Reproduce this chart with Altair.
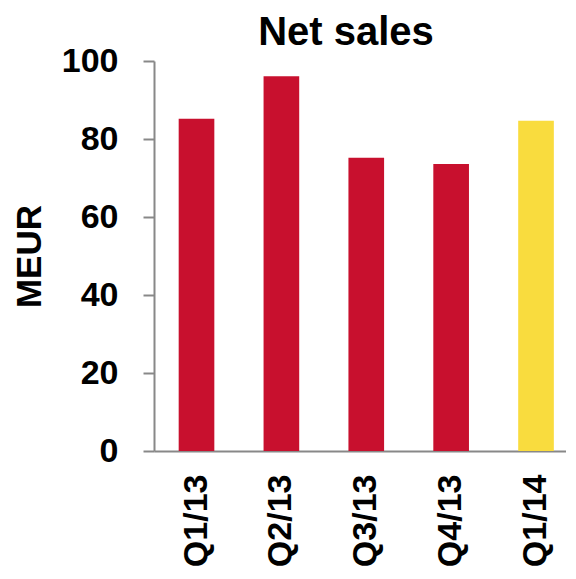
import altair as alt
import pandas as pd

quarters = ["Q1/13", "Q2/13", "Q3/13", "Q4/13", "Q1/14"]
net_sales = [85.2, 96.1, 75.2, 73.6, 84.7]
colors = ["#C8102E", "#C8102E", "#C8102E", "#C8102E", "#F9DC3E"]

df = pd.DataFrame({"quarter": quarters, "sales": net_sales, "color": colors})

FONT = "Liberation Sans"

chart = alt.Chart(df).mark_bar().encode(
    x=alt.X("quarter:N", sort=quarters, title=None,
            scale=alt.Scale(paddingInner=0.58, paddingOuter=0.217, align=0.67),
            axis=alt.Axis(labelAngle=270, labelAlign="right", labelBaseline="middle",
                          labelFontSize=34, labelFont=FONT, labelFontWeight="bold",
                          labelColor="black", labelPadding=23, ticks=False,
                          domainColor="#888888", domainWidth=2)),
    y=alt.Y("sales:Q", title="MEUR",
            scale=alt.Scale(domain=[0, 100], nice=False),
            axis=alt.Axis(values=[0, 20, 40, 60, 80, 100], grid=False,
                          labelFontSize=34, labelFont=FONT, labelFontWeight="bold",
                          labelColor="black", labelPadding=25, tickSize=11,
                          tickColor="#888888", tickWidth=2,
                          domainColor="#888888", domainWidth=2,
                          titleFontSize=35, titleFont=FONT, titleFontWeight="bold",
                          titleColor="black", titlePadding=14)),
    color=alt.Color("color:N", scale=None),
).properties(
    width=412, height=390,
    padding={"left": 4, "top": 5, "right": 0, "bottom": 0},
    title=alt.TitleParams("Net sales", fontSize=40, font=FONT, fontWeight="bold",
                          color="black", anchor="middle", dx=-14, offset=-9),
).configure_view(stroke=None)

chart.save("out.html", embed_options={"renderer": "svg", "actions": False})
